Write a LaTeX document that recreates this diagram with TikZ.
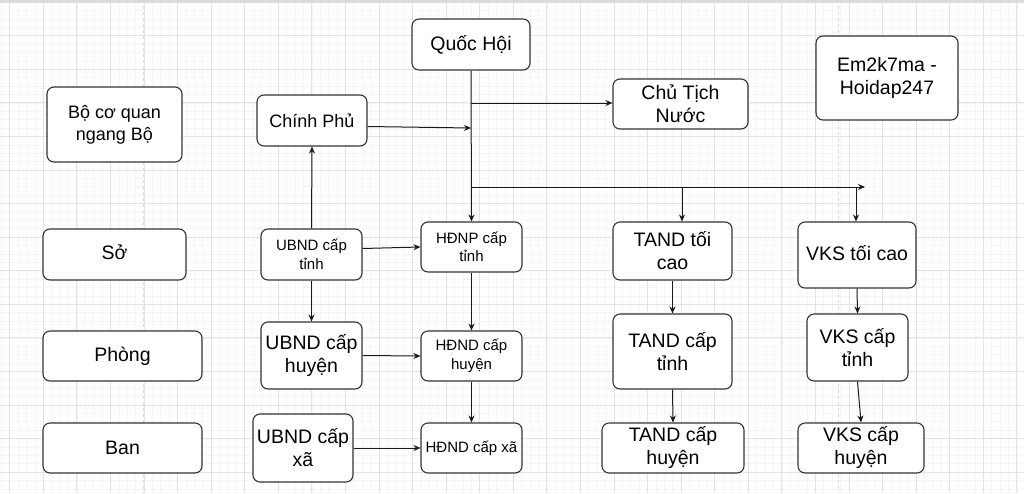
\documentclass[tikz,border=0pt]{standalone}
\usepackage{fontspec}
\setmainfont{Liberation Sans}
\usetikzlibrary{arrows.meta, positioning, calc}

\begin{document}
\begin{tikzpicture}[x=1pt, y=-1pt]
    \tikzstyle{box} = [draw=black!80, line width=1.1pt, rectangle, fill=white, align=center, rounded corners=7pt, inner sep=2pt]
    \tikzstyle{big} = [font=\fontsize{19.5}{23}\selectfont]
    \tikzstyle{mid} = [font=\fontsize{18}{22}\selectfont]
    \tikzstyle{small} = [font=\fontsize{15}{18.5}\selectfont]
    \tikzstyle{link} = [draw=black!90, line width=1pt, -{Stealth[length=7pt, width=6pt]}]
    \tikzstyle{minorline} = [draw=black!4, line width=0.6pt]
    \tikzstyle{majorline} = [draw=black!11, line width=0.8pt]

    \useasboundingbox (0,0) rectangle (1024,493);
    \fill[white] (0,0) rectangle (1024,493);
    \foreach \k in {-1,...,121} {\draw[minorline] ({9.7+\k*8.3925},0) -- ({9.7+\k*8.3925},493);}
    \foreach \k in {-4,...,54} {\draw[minorline] (0,{35.7+\k*8.3925}) -- (1024,{35.7+\k*8.3925});}
    \foreach \k in {0,...,30} {\draw[majorline] ({9.7+\k*33.57},0) -- ({9.7+\k*33.57},493);}
    \foreach \k in {-1,...,13} {\draw[majorline] (0,{35.7+\k*33.57}) -- (1024,{35.7+\k*33.57});}
    \foreach \px in {143,838} {\draw[draw=black!15, dashed, line width=0.8pt] (\px,0) -- (\px,493);}
    \fill[black!14] (0,0) rectangle (1024,3);

    \node[box, big, minimum width=118pt, minimum height=51pt] (quochoi) at (471,44.5) {Quốc Hội};
    \node[box, big, minimum width=135pt, minimum height=50pt] (chutich) at (680.5,104) {Chủ Tịch\\Nước};
    \node[box, mid, minimum width=110pt, minimum height=51pt] (chinhphu) at (312,120.5) {Chính Phủ};
    \node[box, big, minimum width=142pt, minimum height=84pt] (tacgia) at (887,78) {Em2k7ma -\\Hoidap247};

    \node[box, mid, minimum width=135pt, minimum height=75pt] (bo) at (114.5,124.5) {Bộ cơ quan\\ngang Bộ};
    \node[box, big, minimum width=143pt, minimum height=51pt] (so) at (114.5,254.5) {\raisebox{5pt}{Sở}};
    \node[box, big, minimum width=159pt, minimum height=50pt] (phong) at (122.5,356) {Phòng};
    \node[box, big, minimum width=159pt, minimum height=50pt] (ban) at (122.5,448) {Ban};

    \node[box, small, minimum width=101pt, minimum height=51pt] (ubtinh) at (311.5,254.5) {UBND cấp\\tỉnh};
    \node[box, big, minimum width=101pt, minimum height=67pt] (ubhuyen) at (311.5,355.5) {UBND cấp\\huyện};
    \node[box, big, minimum width=100pt, minimum height=68pt] (ubxa) at (303,448) {UBND cấp\\xã};

    \node[box, small, minimum width=101pt, minimum height=50pt] (hdtinh) at (471.5,247) {HĐNP cấp\\tỉnh};
    \node[box, small, minimum width=101pt, minimum height=50pt] (hdhuyen) at (471.5,356) {HĐND cấp\\huyện};
    \node[box, small, minimum width=101pt, minimum height=50pt] (hdxa) at (471.5,448) {HĐND cấp xã};

    \node[box, big, minimum width=119pt, minimum height=58pt] (tatoicao) at (672.5,251) {TAND tối\\cao};
    \node[box, big, minimum width=119pt, minimum height=75pt] (tatinh) at (672.5,351.5) {TAND cấp\\tỉnh};
    \node[box, big, minimum width=142pt, minimum height=50pt] (tahuyen) at (673,448) {TAND cấp\\huyện};

    \node[box, big, minimum width=118pt, minimum height=66pt] (vktoicao) at (857,255) {\raisebox{5pt}{VKS tối cao}};
    \node[box, big, minimum width=101pt, minimum height=67pt] (vktinh) at (857.5,347.5) {VKS cấp\\tỉnh};
    \node[box, big, minimum width=126pt, minimum height=50pt] (vkhuyen) at (861,448) {VKS cấp\\huyện};

    \coordinate (nhanh1) at (471,103);
    \coordinate (nhanh2) at (471,128);
    \coordinate (nhanh3) at (471,187);
    \coordinate (nhanh4) at (682,187);
    \coordinate (nhanh5) at (856,187);
    \coordinate (cuoi) at (865,187);

    \draw[link] (quochoi.south) -- (hdtinh.north);
    \draw[link] (nhanh1) -- (chutich.west |- nhanh1);
    \draw[link] ([yshift=-6pt]chinhphu.east) -- (nhanh2);
    \draw[link] (nhanh3) -- (cuoi);
    \draw[link] (nhanh4) -- (nhanh4 |- tatoicao.north);
    \draw[link] (nhanh5) -- (nhanh5 |- vktoicao.north);

    \draw[link] (ubtinh.north) -- (chinhphu.south);
    \draw[link] ([yshift=6pt]ubtinh.east) -- (hdtinh.west);
    \draw[link] (ubtinh.south) -- (ubhuyen.north);
    \draw[link] (ubhuyen.east) -- (hdhuyen.west);
    \draw[link] (ubxa.east) -- (hdxa.west);
    \draw[link] (hdtinh.south) -- (hdhuyen.north);
    \draw[link] (hdhuyen.south) -- (hdxa.north);

    \draw[link] (tatoicao.south) -- (tatinh.north);
    \draw[link] (tatinh.south) -- (tahuyen.north);
    \draw[link] (vktoicao.south) -- (vktinh.north);
    \draw[link] (vktinh.south) -- (vkhuyen.north);
\end{tikzpicture}
\end{document}
